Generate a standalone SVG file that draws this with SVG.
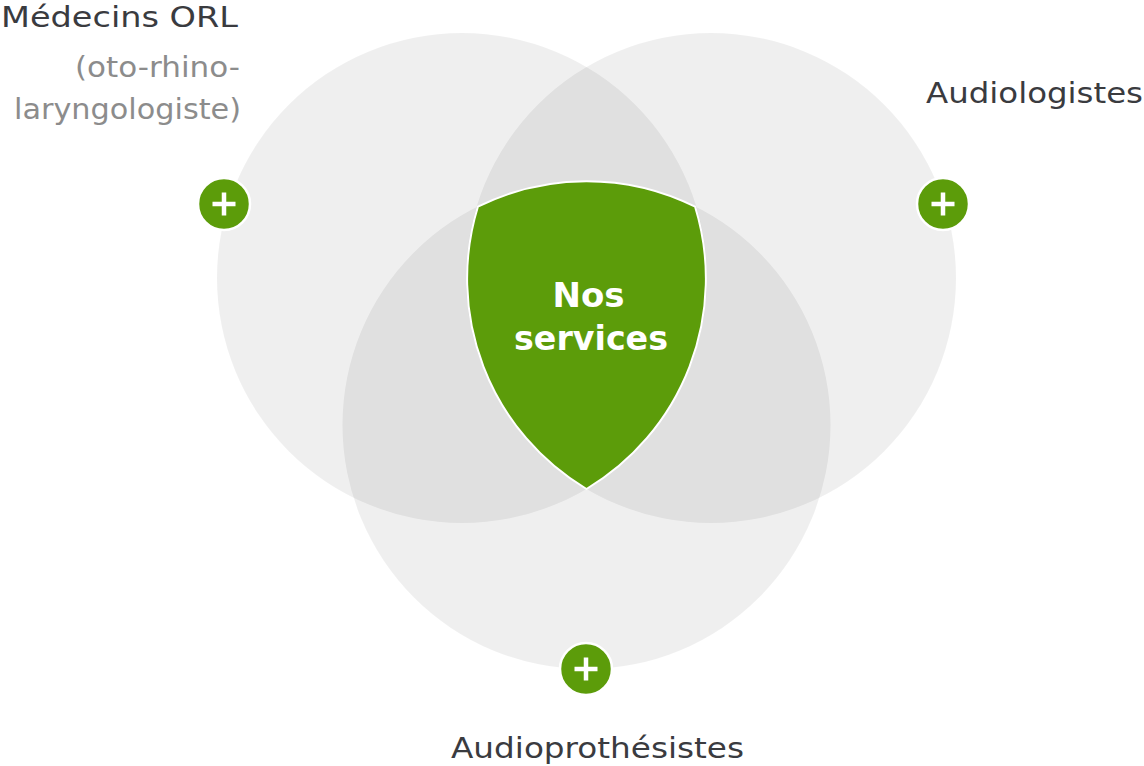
<svg xmlns="http://www.w3.org/2000/svg" width="1144" height="766" viewBox="0 0 1144 766">
<style>
.c{fill:#000;fill-opacity:0.063}
.lbl{font-family:"DejaVu Sans",sans-serif;font-size:29px;fill:#3a3b3f}
.sub{font-family:"DejaVu Sans",sans-serif;font-size:28px;fill:#8c8c8c}
.core{font-family:"DejaVu Sans",sans-serif;font-weight:bold;font-size:34px;fill:#fff;text-anchor:middle}
.btn circle{fill:#5c9c0a;stroke:#fff;stroke-width:2.5}
.btn path{stroke:#fff;stroke-width:4.5;fill:none}
</style>
<rect width="1144" height="766" fill="#fff"/>
<g id="circles">
<circle id="circle-orl" class="c" cx="462" cy="278" r="245"/>
<circle id="circle-audiologistes" class="c" cx="711" cy="278" r="245"/>
<circle id="circle-audioprothesistes" class="c" cx="586.5" cy="425" r="244"/>
</g>
<g id="core">
<path d="M477.9 206.7 A244 244 0 0 1 695.1 206.7 A245 245 0 0 1 586.5 489 A245 245 0 0 1 477.9 206.7 Z" fill="#5c9c0a" stroke="#fff" stroke-width="2"/>
<text class="core" x="588.5" y="307">Nos</text>
<text class="core" x="591" y="350" textLength="154" lengthAdjust="spacingAndGlyphs">services</text>
</g>
<g id="btn-orl" class="btn"><circle cx="224" cy="204" r="26"/><path d="M212.5 204H235.5M224 192.5V215.5"/></g>
<g id="btn-audiologistes" class="btn"><circle cx="943" cy="204" r="26"/><path d="M931.5 204H954.5M943 192.5V215.5"/></g>
<g id="btn-audioprothesistes" class="btn"><circle cx="586" cy="669" r="26"/><path d="M574.5 669H597.5M586 657.5V680.5"/></g>
<g id="label-orl">
<text class="lbl" x="1" y="27" textLength="237" lengthAdjust="spacingAndGlyphs">Médecins ORL</text>
<text class="sub" x="75" y="77" textLength="165" lengthAdjust="spacingAndGlyphs">(oto-rhino-</text>
<text class="sub" x="14" y="119" textLength="227" lengthAdjust="spacingAndGlyphs">laryngologiste)</text>
</g>
<g id="label-audiologistes"><text class="lbl" x="926" y="103" textLength="217" lengthAdjust="spacingAndGlyphs">Audiologistes</text></g>
<g id="label-audioprothesistes"><text class="lbl" x="451" y="758" textLength="293" lengthAdjust="spacingAndGlyphs">Audioprothésistes</text></g>
</svg>
